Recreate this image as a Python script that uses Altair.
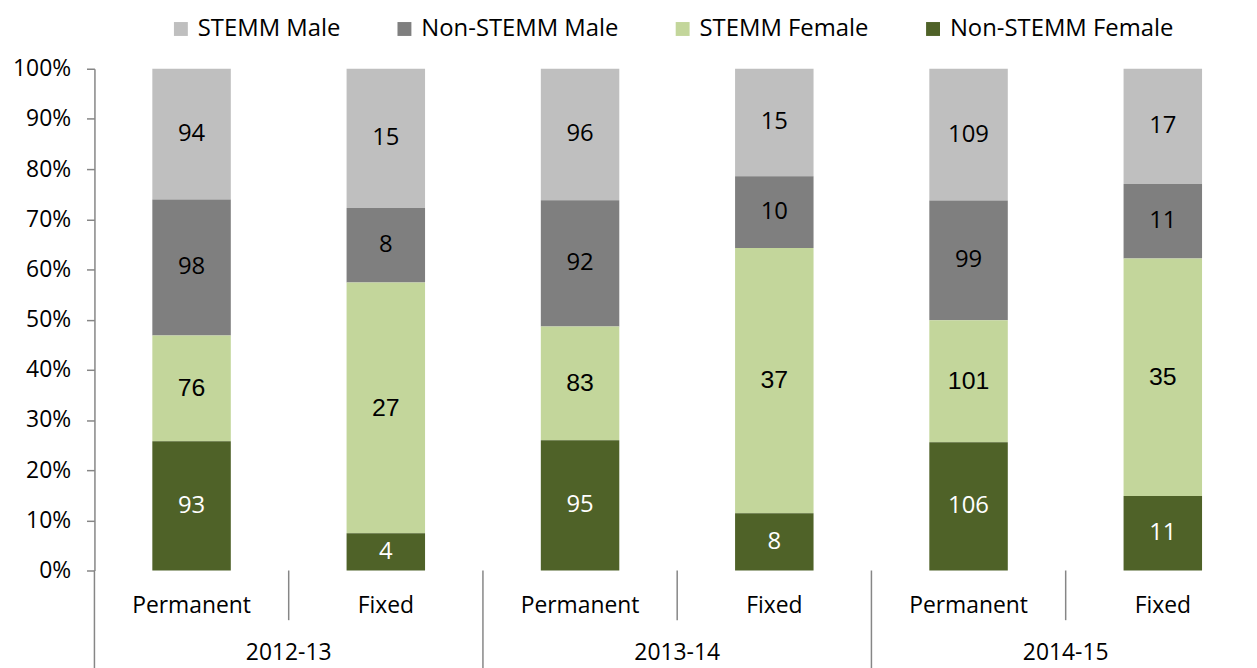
import altair as alt
import pandas as pd

# ---- data ----
years = ["2012-13", "2013-14", "2014-15"]
contracts = ["Permanent", "Fixed"]
series = ["STEMM Male", "Non-STEMM Male", "STEMM Female", "Non-STEMM Female"]
colors = ["#BFBFBF", "#7F7F7F", "#C3D69B", "#4F6228"]
stack_idx = [3, 2, 1, 0]  # bottom-up order in the stack

stemm_male = [94, 15, 96, 15, 109, 17]
non_stemm_male = [98, 8, 92, 10, 99, 11]
stemm_female = [76, 27, 83, 37, 101, 35]
non_stemm_female = [93, 4, 95, 8, 106, 11]

values = [stemm_male, non_stemm_male, stemm_female, non_stemm_female]
keys = [f"{y} {c}" for y in years for c in contracts]

rows = []
for s, idx, vals in zip(series, stack_idx, values):
    for k, v in zip(keys, vals):
        rows.append({"key": k, "series": s, "idx": idx, "count": v})
df = pd.DataFrame(rows)

cat_df = pd.DataFrame({"key": keys, "label": [c for y in years for c in contracts]})
grp_df = pd.DataFrame({"key": [f"{y} Fixed" for y in years], "label": years})
inner_df = pd.DataFrame({"key": [f"{y} Fixed" for y in years]})
outer_df = pd.DataFrame({"key": [f"{y} Permanent" for y in years]})

AX = "#868686"
FONT = "Open Sans"

xscale = alt.Scale(domain=keys, range=[0, 1173], paddingInner=0, paddingOuter=0)


def xenc(bp=None):
    if bp is None:
        return alt.X("key:N", sort=keys, scale=xscale, axis=None)
    return alt.X("key:N", sort=keys, scale=xscale, axis=None, bandPosition=bp)


bars = alt.Chart(df).mark_bar(width=alt.RelativeBandSize(0.404)).encode(
    x=alt.X("key:N", sort=keys, scale=xscale,
            axis=alt.Axis(labels=False, ticks=False, title=None, domainColor=AX,
                          domainWidth=1.5, grid=False)),
    y=alt.Y("count:Q", stack="normalize", scale=alt.Scale(domain=[0, 1]),
            axis=alt.Axis(format="%", values=[i / 10 for i in range(11)], tickSize=8,
                          labelPadding=16, domainColor=AX, tickColor=AX, domainWidth=1.5,
                          tickWidth=1.5, labelFont=FONT, labelFontSize=23,
                          labelColor="black", grid=False, title=None)),
    color=alt.Color("series:N", scale=alt.Scale(domain=series, range=colors),
                    legend=alt.Legend(orient="none", legendX=75, legendY=-52,
                                      direction="horizontal", columns=4, title=None,
                                      symbolType="square", symbolSize=196,
                                      symbolStrokeWidth=0, labelFont=FONT,
                                      labelFontSize=24, labelOffset=5, labelLimit=0,
                                      columnPadding=52, labelColor="black")),
    order=alt.Order("idx:Q", sort="ascending"),
)

base_text = alt.Chart(df).transform_stack(
    stack="count", groupby=["key"], as_=["y0", "y1"], offset="normalize",
    sort=[alt.SortField("idx", order="ascending")],
).transform_calculate(mid="(datum.y0 + datum.y1) / 2")

txt_gray = base_text.transform_filter(
    "datum.series == 'STEMM Male' || datum.series == 'Non-STEMM Male'"
).mark_text(font=FONT, fontSize=24, color="black", baseline="middle").encode(
    x=xenc(), y=alt.Y("mid:Q"), text="count:Q")

txt_sf = base_text.transform_filter("datum.series == 'STEMM Female'").mark_text(
    font="Liberation Sans", fontSize=25, color="black", baseline="middle").encode(
    x=xenc(), y=alt.Y("mid:Q"), text="count:Q")

txt_nsf = base_text.transform_filter("datum.series == 'Non-STEMM Female'").mark_text(
    font=FONT, fontSize=24, color="white", baseline="middle").encode(
    x=xenc(), y=alt.Y("mid:Q"), text="count:Q")

cat_labels = alt.Chart(cat_df).mark_text(font=FONT, fontSize=23, color="black",
                                         baseline="middle").encode(
    x=xenc(), y=alt.value(541), text="label:N")

grp_labels = alt.Chart(grp_df).mark_text(font=FONT, fontSize=23, color="black",
                                         baseline="middle").encode(
    x=xenc(0), y=alt.value(588), text="label:N")

inner_rules = alt.Chart(inner_df).mark_rule(color=AX, strokeWidth=1.5).encode(
    x=xenc(0), y=alt.value(505), y2=alt.value(555))

outer_rules = alt.Chart(outer_df).mark_rule(color=AX, strokeWidth=1.5).encode(
    x=xenc(0), y=alt.value(505), y2=alt.value(610))

chart = alt.layer(bars, txt_gray, txt_sf, txt_nsf, cat_labels, grp_labels,
                  inner_rules, outer_rules).properties(
    width=1162, height=505,
    autosize=alt.AutoSizeParams(type="none"),
    padding={"left": 87, "top": 59, "right": 0, "bottom": 96},
).configure_view(stroke=None)

chart.save("out.html", embed_options={"renderer": "svg", "actions": False})
